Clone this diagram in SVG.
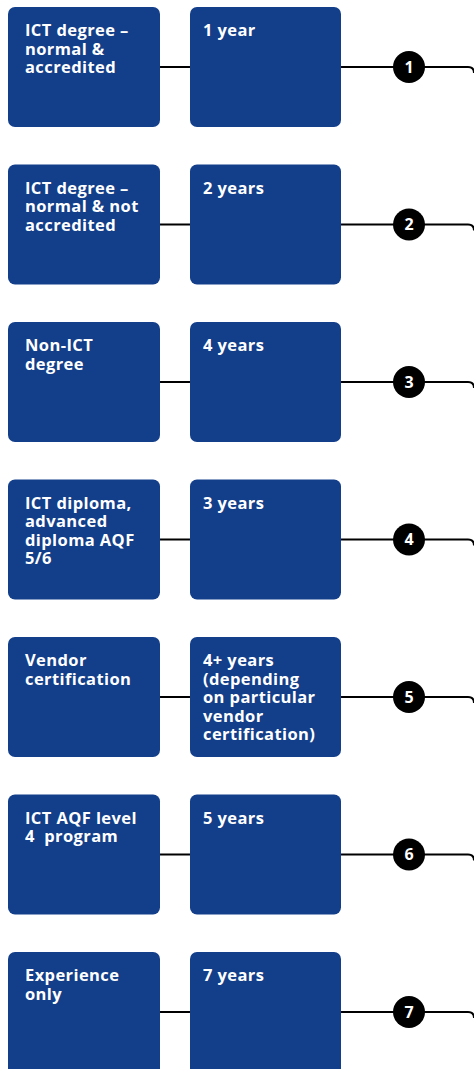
<svg xmlns="http://www.w3.org/2000/svg" width="474" height="1069" viewBox="0 0 474 1069">
<style>
.box{fill:#123e8a}
.t{font-family:"Open Sans",Lato,sans-serif;font-weight:bold;font-size:16.5px;letter-spacing:0.4px;fill:#fff;white-space:pre}
.ln{stroke:#000;stroke-width:2;fill:none}
.c{fill:#000}
.n{font-family:"Open Sans",Lato,sans-serif;font-weight:bold;font-size:16px;fill:#fff;text-anchor:middle}
</style>
<g id="connectors">
<path class="ln" d="M160 67H190M341 67H468Q474 67 474 73"/>
<path class="ln" d="M160 224.5H190M341 224.5H468Q474 224.5 474 230.5"/>
<path class="ln" d="M160 382H190M341 382H468Q474 382 474 388"/>
<path class="ln" d="M160 539.5H190M341 539.5H468Q474 539.5 474 545.5"/>
<path class="ln" d="M160 697H190M341 697H468Q474 697 474 703"/>
<path class="ln" d="M160 854.5H190M341 854.5H468Q474 854.5 474 860.5"/>
<path class="ln" d="M160 1012H190M341 1012H468Q474 1012 474 1018"/>
</g>
<g id="row1">
<rect class="box" x="8" y="7" width="152" height="120" rx="7"/>
<text class="t" x="25" y="36">ICT degree –<tspan x="25" dy="18.5">normal &amp;</tspan><tspan x="25" dy="18.5">accredited</tspan></text>
<rect class="box" x="190" y="7" width="151" height="120" rx="7"/>
<text class="t" x="203" y="36">1 year</text>
<circle class="c" cx="409" cy="67" r="16"/><text class="n" x="409" y="72.5">1</text>
</g>
<g id="row2">
<rect class="box" x="8" y="164.5" width="152" height="120" rx="7"/>
<text class="t" x="25" y="193.5">ICT degree –<tspan x="25" dy="18.5">normal &amp; not</tspan><tspan x="25" dy="18.5">accredited</tspan></text>
<rect class="box" x="190" y="164.5" width="151" height="120" rx="7"/>
<text class="t" x="203" y="193.5">2 years</text>
<circle class="c" cx="409" cy="224.5" r="16"/><text class="n" x="409" y="230">2</text>
</g>
<g id="row3">
<rect class="box" x="8" y="322" width="152" height="120" rx="7"/>
<text class="t" x="25" y="351">Non-ICT<tspan x="25" dy="18.5">degree</tspan></text>
<rect class="box" x="190" y="322" width="151" height="120" rx="7"/>
<text class="t" x="203" y="351">4 years</text>
<circle class="c" cx="409" cy="382" r="16"/><text class="n" x="409" y="387.5">3</text>
</g>
<g id="row4">
<rect class="box" x="8" y="479.5" width="152" height="120" rx="7"/>
<text class="t" x="25" y="508.5">ICT diploma,<tspan x="25" dy="18.5">advanced</tspan><tspan x="25" dy="18.5">diploma AQF</tspan><tspan x="25" dy="18.5">5/6</tspan></text>
<rect class="box" x="190" y="479.5" width="151" height="120" rx="7"/>
<text class="t" x="203" y="508.5">3 years</text>
<circle class="c" cx="409" cy="539.5" r="16"/><text class="n" x="409" y="545">4</text>
</g>
<g id="row5">
<rect class="box" x="8" y="637" width="152" height="120" rx="7"/>
<text class="t" x="25" y="666">Vendor<tspan x="25" dy="18.5">certification</tspan></text>
<rect class="box" x="190" y="637" width="151" height="120" rx="7"/>
<text class="t" x="203" y="666">4+ years<tspan x="203" dy="18.5">(depending</tspan><tspan x="203" dy="18.5">on particular</tspan><tspan x="203" dy="18.5">vendor</tspan><tspan x="203" dy="18.5">certification)</tspan></text>
<circle class="c" cx="409" cy="697" r="16"/><text class="n" x="409" y="702.5">5</text>
</g>
<g id="row6">
<rect class="box" x="8" y="794.5" width="152" height="120" rx="7"/>
<text class="t" x="25" y="823.5">ICT AQF level<tspan x="25" dy="18.5">4  program</tspan></text>
<rect class="box" x="190" y="794.5" width="151" height="120" rx="7"/>
<text class="t" x="203" y="823.5">5 years</text>
<circle class="c" cx="409" cy="854.5" r="16"/><text class="n" x="409" y="860">6</text>
</g>
<g id="row7">
<rect class="box" x="8" y="952" width="152" height="130" rx="7"/>
<text class="t" x="25" y="981">Experience<tspan x="25" dy="18.5">only</tspan></text>
<rect class="box" x="190" y="952" width="151" height="130" rx="7"/>
<text class="t" x="203" y="981">7 years</text>
<circle class="c" cx="409" cy="1012" r="16"/><text class="n" x="409" y="1017.5">7</text>
</g>
</svg>
